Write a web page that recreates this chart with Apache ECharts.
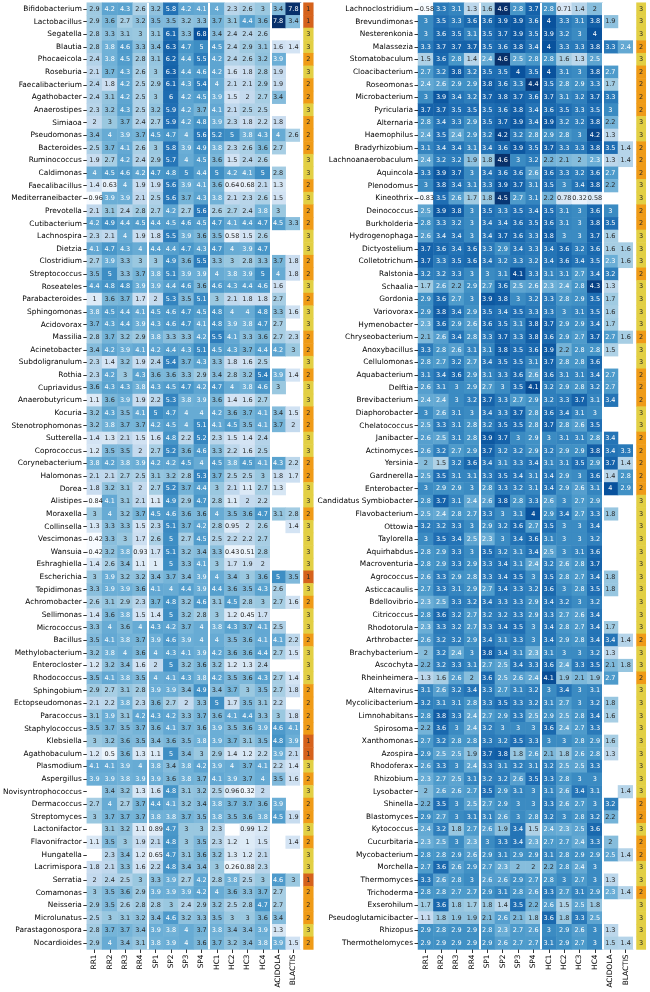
<!DOCTYPE html>
<html><head><meta charset="utf-8">
<script src="https://cdn.jsdelivr.net/npm/echarts@6/dist/echarts.min.js"></script>
<style>html,body{margin:0;padding:0;background:#fff}#c{width:650px;height:992px}</style>
</head><body><div id="c"></div><script>
const _ = null;
const columns = ['RR1','RR2','RR3','RR4','SP1','SP2','SP3','SP4','HC1','HC2','HC3','HC4','ACIDOLA','BLACTIS'];

const leftRows = ['Bifidobacterium','Lactobacillus','Segatella','Blautia','Phocaeicola','Roseburia','Faecalibacterium','Agathobacter','Anaerostipes','Simiaoa','Pseudomonas','Bacteroides','Ruminococcus','Caldimonas','Faecalibacillus','Mediterraneibacter','Prevotella','Cutibacterium','Lachnospira','Dietzia','Clostridium','Streptococcus','Roseateles','Parabacteroides','Sphingomonas','Acidovorax','Massilia','Acinetobacter','Subdoligranulum','Rothia','Cupriavidus','Anaerobutyricum','Kocuria','Stenotrophomonas','Sutterella','Coprococcus','Corynebacterium','Halomonas','Dorea','Alistipes','Moraxella','Collinsella','Vescimonas','Wansuia','Eshraghiella','Escherichia','Tepidimonas','Achromobacter','Sellimonas','Micrococcus','Bacillus','Methylobacterium','Enterocloster','Rhodococcus','Sphingobium','Ectopseudomonas','Paracoccus','Staphylococcus','Klebsiella','Agathobaculum','Plasmodium','Aspergillus','Novisyntrophococcus','Dermacoccus','Streptomyces','Lactonifactor','Flavonifractor','Hungatella','Lacrimispora','Serratia','Comamonas','Neisseria','Microlunatus','Parastagonospora','Nocardioides'];

const leftValues = [
[2.9,4.2,4.3,2.6,3.2,5.8,4.2,4.1,4,2.3,2.6,3,3.4,7.8],
[2.9,3.6,2.7,3.2,3.5,3.5,3.2,3.3,3.7,3.1,4.4,3.6,7.8,3.4],
[2.8,3.3,3.1,3,3.1,6.1,3.3,6.8,3.4,2.4,2.4,2.6,_,_],
[2.8,3.8,4.6,3.3,3.4,6.3,4.7,5,4.5,2.4,2.9,3.1,1.6,1.4],
[2.4,3.8,4.5,2.8,3.1,6.2,4.4,5.5,4.2,2.4,2.6,3.2,3.9,_],
[2.1,3.7,4.3,2.6,3,6.3,4.4,4.6,4.2,1.6,1.8,2.8,1.9,_],
[2.4,1.8,4.2,2.5,2.9,6.1,4.3,5.4,4,2.1,2.1,2.9,1.9,_],
[2.4,3.1,4.2,2.5,3,6,4.2,4.5,3.9,1.5,2,2.7,3.4,_],
[2.3,3.2,4.3,2.5,3.2,5.9,4.2,3.7,4.1,2.1,2.5,2.5,_,_],
[2,3,3.7,2.4,2.7,5.9,4.2,4.8,3.9,2.3,1.8,2.2,1.8,_],
[3.4,4,3.9,3.7,4.5,4.7,4,5.6,5.2,5,3.8,4.3,4,2.6],
[2.5,3.7,4.1,2.6,3,5.8,3.9,4.9,3.8,2.3,2.6,3.6,2.7,_],
[1.9,2.7,4.2,2.4,2.9,5.7,4,4.5,3.6,1.5,2.4,2.6,_,_],
[4,4.5,4.6,4.2,4.7,4.8,5,4.4,5,4.2,4.1,5,2.8,_],
[1.4,0.63,4,1.9,1.9,5.6,3.9,4.1,3.6,0.64,0.68,2.1,1.3,_],
[-0.96,3.9,3.9,2.1,2.5,5.6,3.7,4.3,3.8,2.1,2.3,2.6,1.5,_],
[2.1,3.1,2.4,2.8,2.7,4.2,2.7,5.6,2.6,2.7,2.4,3.8,3,_],
[4.2,4.9,4.4,4.5,4.4,4.5,4.6,4.5,4.7,4.1,4.4,4.7,4.5,3.3],
[2.3,2.1,4,1.9,1.8,5.5,3.9,3.6,3.5,0.58,1.5,2.6,_,_],
[4.1,4.7,4.3,4,4.4,4.4,4.7,4.3,4.7,4,3.9,4.7,_,_],
[2.7,3.9,3.3,3,3,4.9,3.6,5.5,3.3,3,2.8,3.3,3.7,1.8],
[3.5,5,3.3,3.7,3.8,5.1,3.9,3.9,4,3.8,3.9,5,4,1.8],
[4.4,4.8,4.8,3.9,3.9,4.4,4.6,3.6,4.6,4.3,4.4,4.6,1.6,_],
[1,3.6,3.7,1.7,2,5.3,3.5,5.1,3,2.1,1.8,1.8,2.7,_],
[3.8,4.5,4.4,4.1,4.5,4.6,4.7,4.5,4.8,4,4,4.8,3.3,1.6],
[3.7,4.3,4.4,3.9,4.3,4.6,4.7,4.1,4.8,3.9,3.8,4.7,2.7,_],
[2.8,3.7,3.2,2.9,3.8,3.3,3.3,4.2,5.5,4.1,3.3,3.6,2.7,2.3],
[3.4,4.2,3.9,4.1,4.2,4.4,4.3,5.1,4.5,4.3,3.7,4.4,4.2,3],
[2.3,1.4,3.2,1.9,2.4,5.4,3.7,4.3,3.3,1.8,1.6,2.5,_,_],
[2.3,4.2,3,4.3,3.6,3.6,3.3,2.9,3.4,2.8,3.2,5.4,3.9,1.4],
[3.6,4.3,4.3,3.8,4.3,4.5,4.7,4.2,4.7,4,3.8,4.6,3,_],
[1.1,3.6,3.9,1.9,2.2,5.3,3.8,3.9,3.6,1.4,1.6,2.7,_,_],
[3.2,4.3,3.5,4.1,5,4.7,4,4,4.2,3.6,3.7,4.1,3.4,1.5],
[3.2,3.8,3.7,3.7,4.2,4.5,4,5.1,4.1,4.5,3.5,4.1,3.7,2],
[1.4,1.3,2.1,1.5,1.6,4.8,2.2,5.2,2.3,1.5,1.4,2.4,_,_],
[1.2,3.5,3.5,2,2.7,5.2,3.6,4.6,3.3,2.2,1.6,2.5,_,_],
[3.8,4.2,3.8,3.9,4.2,4.2,4.5,4,4.5,3.8,4.5,4.1,4.3,2.2],
[2.1,2.1,2.7,2.5,3.1,3.2,2.8,5.3,3.7,2.5,2.5,3,1.8,1.7],
[1.8,3.2,3.1,2,2.7,5.2,3.7,4.4,3,2.1,1.1,2.7,1.3,_],
[-0.84,4.1,3.1,2.1,1.1,4.9,2.9,4.7,2.8,1.1,2,2.2,_,_],
[3,4,3.2,3.7,4.5,4.6,3.6,3.6,4,3.5,3.6,4.7,3.1,2.8],
[1.3,3.3,3.3,1.5,2.3,5.1,3.7,4.2,2.8,0.95,2,2.6,_,1.4],
[-0.42,3.3,3,1.7,2.6,5,2.7,4.5,2.5,2.2,2.2,2.7,_,_],
[-0.42,3.2,3.8,0.93,1.7,5.1,3.2,3.4,3.3,0.43,0.51,2.8,_,_],
[1.4,2.6,3.4,1.1,1,5,3.3,4.1,3,1.7,1.9,2,_,_],
[3,3.9,3.2,3.2,3.4,3.7,3.4,3.9,4,3.4,3,3.6,5,3.5],
[3.3,3.9,3.9,3.6,4.1,4,4.4,3.9,4.4,3.6,3.5,4.3,2.6,_],
[2.6,3.1,2.9,2.3,3.7,4.8,3.2,4.6,3.1,4.5,2.8,3,2.7,1.6],
[1.4,3.6,3.8,1.5,1.4,5,3.2,2.8,3,1.2,0.45,1.7,_,_],
[3.3,4,3.6,4,4.3,4.2,3.7,4,3.8,4.3,3.7,4.1,2.5,_],
[3.5,4.1,3.8,3.7,3.9,4.6,3.9,4,4,3.5,3.6,4.1,4.1,2.2],
[3.2,3.8,4,3.6,4,4.3,4.1,3.9,4.2,3.6,3.6,4.4,2.7,1.5],
[1.2,3.2,3.4,1.6,2,5,3.2,3.6,3.2,1.2,1.3,2.4,_,_],
[3.5,4.1,3.8,3.5,4,4.1,4.3,3.8,4.2,3.5,3.6,4.3,2.7,1.4],
[2.9,2.7,3.1,2.8,3.9,3.9,3.4,4.9,3.4,3.7,3,3.5,2.7,1.8],
[2.1,2.2,3.8,2.3,3.6,2.7,2,3.3,5,1.7,3.5,3.1,2.2,_],
[3.1,3.9,3.1,4.2,4.3,4.2,3.3,3.7,3.6,4.1,4.4,3.3,3,1.8],
[3.5,3.7,3.5,3.7,3.6,4.1,3.7,3.6,3.9,3.5,3.6,3.9,4.6,4.1],
[3,3.2,3.6,3.5,3.4,3.6,3.5,3.8,3.9,3.7,3.1,3.5,4.8,3.9],
[1.2,0.5,3.6,1.3,1.1,5,3.4,3,2.9,1.4,1.2,2.2,3.9,2.1],
[4.1,4.1,3.9,4,3.8,3.4,3.8,4.2,3.9,4,3.7,4.1,2.2,1.4],
[3.9,3.9,3.8,3.9,3.9,3.6,3.8,3.7,4.1,3.9,3.7,4,3.5,1.6],
[_,3.4,3.2,1.3,1.6,4.8,3.1,3.2,2.5,0.96,0.32,2,_,_],
[2.7,4,2.7,3.7,4.4,4.1,3.2,3.4,3.8,3.7,3.7,3.6,3.9,_],
[3,3.7,3.7,3.7,3.8,3.8,3.7,3.5,3.8,3.5,3.6,3.8,4.5,1.9],
[_,3.1,3.2,1.1,0.89,4.7,3,3,2.3,_,0.99,1.2,_,_],
[1.1,3.5,3,1.9,2.1,4.8,3,3.5,2.3,1.2,1,1.5,_,1.4],
[_,2.3,3.4,1.2,0.65,4.7,3.1,3.6,3.2,1.3,1.2,2.1,_,_],
[1.8,2.1,3.3,1.6,2.2,4.8,3.4,3.4,3,0.26,0.88,2.3,_,_],
[2,2.4,2.5,3,3.3,3.9,2.7,4.2,2.8,3.8,2.5,3,4.6,3],
[3,3.5,3.6,2.9,3.9,3.9,3.9,4.2,4,3.6,3.3,3.7,2.7,_],
[2.9,3.5,2.6,2.8,2.8,3,2.4,2.9,3.2,2.5,2.8,4.7,2.7,_],
[2.5,3,3.1,3.2,3.4,4.6,3.2,3.3,3.5,3,3,3.6,3.4,_],
[2.8,3.7,3.7,3.4,3.9,3.8,4,3.7,3.8,3.4,3.4,3.9,1.3,_],
[2.9,4,3.4,3.1,3.8,3.9,4,3.6,3.7,3.2,3.4,3.8,3.9,1.5]
];
const leftGroups = [1,1,3,3,2,3,2,2,3,2, 2,2,3,3,2,3,2,2,3,3, 2,2,3,2,3,3,2,2,3,2, 3,3,2,2,3,3,2,2,3,3, 2,3,3,3,3,1,3,2,3,3, 2,3,3,3,2,2,2,2,1,1, 3,2,3,2,2,3,2,3,3,1, 2,2,2,3,2];

const rightRows = ['Lachnoclostridium','Brevundimonas','Nesterenkonia','Malassezia','Stomatobaculum','Cloacibacterium','Roseomonas','Microbacterium','Pyricularia','Alternaria','Haemophilus','Bradyrhizobium','Lachnoanaerobaculum','Aquincola','Plenodomus','Kineothrix','Deinococcus','Burkholderia','Hydrogenophaga','Dictyostelium','Colletotrichum','Ralstonia','Schaalia','Gordonia','Variovorax','Hymenobacter','Chryseobacterium','Anoxybacillus','Cellulomonas','Aquabacterium','Delftia','Brevibacterium','Diaphorobacter','Chelatococcus','Janibacter','Actinomyces','Yersinia','Gardnerella','Enterobacter','Candidatus Symbiobacter','Flavobacterium','Ottowia','Taylorella','Aquirhabdus','Macroventuria','Agrococcus','Asticcacaulis','Bdellovibrio','Citricoccus','Rhodotorula','Arthrobacter','Brachybacterium','Ascochyta','Rheinheimera','Alternavirus','Mycolicibacterium','Limnohabitans','Spirosoma','Xanthomonas','Azospira','Rhodoferax','Rhizobium','Lysobacter','Shinella','Blastomyces','Kytococcus','Cucurbitaria','Mycobacterium','Morchella','Thermomyces','Trichoderma','Exserohilum','Pseudoglutamicibacter','Rhizopus','Thermothelomyces'];

const rightValues = [
[-0.58,3.3,3.1,1.3,1.6,4.6,2.8,3.7,2.8,0.71,1.4,2,_,_],
[3,3.5,3.3,3.6,3.6,3.9,3.9,3.6,4,3.3,3.1,3.8,1.9,_],
[3,3.6,3.5,3.1,3.5,3.7,3.9,3.5,3.9,3.2,3,4,_,_],
[3.3,3.7,3.7,3.7,3.5,3.6,3.8,3.4,4,3.3,3.3,3.8,3.3,2.4],
[1.5,3.6,2.8,1.4,2.4,4.6,2.5,2.8,2.8,1.6,1.3,2.5,_,_],
[2.7,3.2,3.8,3.2,3.5,3.5,4,3.5,4,3.1,3,3.8,2.7,_],
[2.4,2.6,2.9,2.9,3.8,3.6,3.3,4.4,3.5,2.8,2.9,3.3,1.7,_],
[3,3.9,3.4,3.2,3.7,3.8,3.7,3.6,3.7,3.1,3.2,3.7,3.3,_],
[3.7,3.7,3.5,3.5,3.5,3.6,3.8,3.4,3.6,3.5,3.3,3.5,3,_],
[2.8,3.4,3.3,2.9,3.5,3.7,3.9,3.4,3.9,3.2,3.2,3.8,2.2,_],
[2.4,3.5,2.4,2.9,3.2,4.2,3.2,2.8,2.9,2.8,3,4.2,1.3,_],
[3.1,3.4,3.4,3.1,3.4,3.6,3.9,3.5,3.7,3.3,3.3,3.8,3.5,1.4],
[2.4,3.2,3.2,1.9,1.8,4.6,3,3.2,2.2,2.1,2,2.3,1.3,1.4],
[3.3,3.9,3.7,3,3.4,3.6,3.6,2.6,3.6,3.3,3.2,3.6,2.7,_],
[3,3.8,3.4,3.1,3.3,3.9,3.7,3.1,3.5,3,3.4,3.8,2.2,_],
[-0.83,3.5,2.6,1.7,1.8,4.5,2.7,3.1,2.2,0.78,0.32,0.58,_,_],
[2.5,3.9,3.8,3,3.5,3.3,3.5,3.4,3.5,3.1,3,3.6,3,_],
[2.8,3.3,3.2,3,3.4,3.4,3.6,3.5,3.6,3.1,3,3.8,3.5,_],
[2.6,3.4,3.4,3,3.4,3.7,3.6,3.3,3.8,3,3,3.7,1.6,_],
[3.7,3.6,3.4,3.6,3.3,2.9,3.4,3.3,3.4,3.6,3.2,3.6,1.6,1.6],
[3.7,3.3,3.5,3.6,3.4,3.2,3.3,3.2,3.4,3.6,3.4,3.5,2.3,1.6],
[3.2,3.2,3.3,3,3,3.1,4.1,3.3,3.1,3.1,2.7,3.4,3.2,_],
[1.7,2.6,2.2,2.9,2.7,3.6,2.5,2.6,2.3,2.4,2.8,4.3,1.3,_],
[2.9,3.6,2.7,3,3.9,3.8,3,3.2,3.3,2.8,2.9,3.5,1.7,_],
[2.9,3.8,3.4,2.9,3.5,3.4,3.5,3.3,3.3,3,3.1,3.5,1.6,_],
[2.3,3.6,2.9,2.6,3.6,3.5,3.1,3.8,3.7,2.9,2.9,3.4,1.7,_],
[2.1,2.6,3.4,2.8,3.3,3.7,3.3,3.8,3.6,2.9,2.7,3.7,2.7,1.6],
[3.3,2.8,2.6,3.1,3.1,3.8,3.5,3.6,3.9,2.2,2.8,2.8,1.5,_],
[2.8,2.7,3.2,2.7,3.4,3.5,3.5,3.1,3.7,2.8,2.8,3.6,_,_],
[3.1,3.4,3.6,2.9,3.1,3.3,3.6,2.6,3.6,3.1,3.1,3.4,2.7,_],
[2.6,3.1,3,2.9,2.7,3,3.5,4.1,3.2,2.9,2.8,3.2,2.7,_],
[2.4,2.4,3,3.2,3.7,3.3,2.7,2.9,3.2,3.3,3.7,3.1,3.4,_],
[3,2.6,3.1,3,3.4,3.3,3.7,2.8,3.6,3.4,3.1,3,_,_],
[2.5,3.3,3.1,2.8,3.2,3.5,3.5,2.8,3.7,2.8,2.6,3.5,_,_],
[2.6,2.5,3.1,2.8,3.9,3.7,3,2.9,3,3.1,3.1,2.8,3.4,_],
[2.6,3.2,2.7,2.9,3.7,3.2,3.2,2.9,3.2,2.9,2.9,3.8,3.4,3.3],
[2,1.5,3.2,3.6,3.4,3.1,3.3,3.4,3.1,3.1,3.5,2.9,3.7,1.4],
[2.5,3.5,3.1,3.1,3.3,3.5,3.4,3.1,3.4,2.9,3,3.6,1.4,2.8],
[3,2.9,2.9,3,2.8,3.3,3.2,3.1,3.4,2.9,2.6,3.1,4,2.9],
[2.8,3.7,3.1,2.4,2.6,3.8,2.8,3.3,2.6,3,2.7,2.9,_,_],
[2.5,2.4,2.8,2.7,3.3,3,3.1,4,2.9,3.4,2.7,3.3,1.8,_],
[3.2,3.2,3.3,3,2.9,3.2,3.6,2.7,3.5,3,3,3.4,_,_],
[3,3.5,3.4,2.5,2.3,3,3.4,3.6,3.1,3,3,3.2,_,_],
[2.8,2.9,3.3,3,3.5,3.2,3.1,3.4,2.5,3,3.1,3.6,_,_],
[2.8,2.9,3.3,2.9,3.3,3.4,3.1,2.4,3.2,2.6,2.8,3.7,_,_],
[2.6,3.3,2.9,2.8,3.3,3.4,3.5,3,3.5,2.8,2.7,3.4,1.8,_],
[2.7,3.3,3.1,2.9,2.7,3.4,3.3,3.2,3.6,3,2.8,3.5,1.8,_],
[2.3,2.5,3.3,3.2,3.4,3.3,3.3,2.9,3.4,3.2,3,3.2,_,_],
[2.8,3.6,3.2,2.7,3.2,3.2,3.3,2.9,3.3,2.7,2.6,3.4,_,_],
[2.3,3.3,3.2,2.7,3.3,3.4,3.5,3,3.4,2.8,2.7,3.4,1.7,_],
[2.6,3.2,3.2,2.9,3.4,3.1,3.3,3,3.4,2.9,2.8,3.4,3.4,1.4],
[2,3.2,2.4,3,3.8,3.4,3.1,2.3,3.1,3,3,3.2,1.3,_],
[2.2,3.2,3.3,3.1,2.7,2.5,3.4,3.3,3.6,2.4,3.3,3.5,2.1,1.8],
[1.3,1.6,2.6,2,3.6,2.5,2.6,2.4,4.1,1.9,2.1,1.9,2.7,_],
[3.1,2.6,3.2,3.4,3.3,2.7,3.1,3.2,3,3.4,3,3.1,_,_],
[3.2,3.1,3.1,2.8,3.3,3.5,3.3,3.2,3.1,2.7,3,3.2,1.8,_],
[2.8,3.8,3.3,2.4,2.7,2.9,3.3,2.5,2.9,2.5,2.8,3.4,1.6,_],
[2.2,3.6,3,2.4,3.2,3,3,3,3.6,2.4,2.7,3.3,_,_],
[2.7,3.2,2.8,2.8,3.3,3.2,3.5,3.3,3,3,2.8,2.9,1.6,_],
[2.9,2.5,2.5,1.9,3.7,3.8,1.8,2.6,2.1,1.8,2.6,2.8,1.3,_],
[2.6,3.3,3,2.4,3.3,3.1,3.2,3.1,3.2,2.5,2.5,3.3,_,_],
[2.3,2.7,2.5,3.1,3.2,3.2,2.6,3.5,3.3,2.8,3,3,_,_],
[2,2.6,2.6,2.7,3.5,2.9,3.1,3,3.1,2.6,3.4,3.1,_,1.4],
[2.2,3.5,3,2.5,2.7,2.9,3,3,3.3,2.6,2.7,3,3.2,_],
[2.9,2.7,3,3.1,3.1,2.6,3,2.8,3.2,3,2.8,3.2,2.2,_],
[2.4,3.2,1.8,2.7,2.6,1.9,3.4,1.5,2.4,2.3,2.5,3.6,_,_],
[2.3,2.5,3,2.3,3,3.3,3.4,2.3,2.7,2.7,2.4,3.3,2,_],
[2.8,2.8,2.9,2.6,2.9,3.1,2.9,2.9,3.1,2.8,2.9,2.9,2.5,1.4],
[2.7,3.6,2.6,2.9,2.7,2.3,2,2,2.2,2.8,2.4,3,_,_],
[3.3,2.6,2.8,3,2.6,2.6,2.9,2.7,2.8,3,2.7,3,1.3,_],
[2.8,2.8,2.7,2.7,2.9,3.1,2.8,2.6,3.3,2.7,3.1,2.9,2.3,1.4],
[1.7,3.6,1.8,1.7,1.8,1.4,3.5,2.2,2.6,1.5,2.5,1.8,_,_],
[1.1,1.8,1.9,1.9,2.1,2.6,2.1,1.8,3.6,1.8,3.3,2.5,_,_],
[2.9,2.8,2.9,2.9,2.8,2.3,2.7,2.6,3,2.9,2.6,3,1.3,_],
[2.9,2.9,2.9,2.9,2.9,2.6,2.7,2.7,3.1,2.9,2.7,3,1.5,1.4]
];
const rightGroups = [3,3,3,2,3,2,2,2,2,3, 3,2,2,2,3,3,2,2,3,3, 3,2,3,3,3,3,2,3,3,2, 2,2,3,3,2,2,2,2,2,3, 3,3,3,3,3,3,3,3,3,3, 2,3,3,2,3,3,3,3,3,3, 3,3,3,2,2,3,2,2,3,3, 2,3,3,3,3];

// ---------- styling helpers ----------
const BLUES = ['#f7fbff','#deebf7','#c6dbef','#9ecae1','#6baed6','#4292c6','#2171b5','#08519c','#08306b'];
const GROUP_COLORS = {1:'#d5621c', 2:'#ef9b17', 3:'#e2cf44'};
const FONT = 'DejaVu Sans';
function hex2rgb(h){return [parseInt(h.substr(1,2),16),parseInt(h.substr(3,2),16),parseInt(h.substr(5,2),16)];}
function bluesAt(t){
  t = Math.max(0, Math.min(1, t));
  const p = t*(BLUES.length-1), i = Math.min(Math.floor(p), BLUES.length-2), f = p-i;
  const a = hex2rgb(BLUES[i]), b = hex2rgb(BLUES[i+1]);
  return a.map((v,k)=>v+(b[k]-v)*f);
}
function relLum(rgb){
  const c = rgb.map(v=>{v/=255; return v<=0.03928? v/12.92 : Math.pow((v+0.055)/1.055,2.4);});
  return 0.2126*c[0]+0.7152*c[1]+0.0722*c[2];
}
function textColor(v, vmin, vmax){ return relLum(bluesAt((v-vmin)/(vmax-vmin))) > 0.408 ? '#262626' : '#ffffff'; }

function buildData(values, vmin, vmax){
  const out = [];
  values.forEach((row, r)=>row.forEach((v, c)=>{
    if (v === null) return;
    out.push({value:[c, r, v], label:{color:textColor(v, vmin, vmax)}});
  }));
  return out;
}
function maxOf(values){ let m=-Infinity; values.forEach(r=>r.forEach(v=>{if(v!==null&&v>m)m=v;})); return m; }
const LEFT_MIN = 0, LEFT_MAX = maxOf(leftValues);
const RIGHT_MIN = 0, RIGHT_MAX = maxOf(rightValues);

const TOP = 2.7, H = 946.8;
function heatX(gi){
  return {type:'category', data:columns, gridIndex:gi, position:'bottom', z:10,
    axisLine:{show:false},
    axisTick:{show:true, alignWithLabel:true, interval:0, length:3.5, lineStyle:{color:'#000', width:0.8}},
    axisLabel:{rotate:90, fontSize:7.4, fontFamily:FONT, color:'#000', margin:5, interval:0},
    splitLine:{show:true, interval:function(i){return i===4||i===8||i===12;}, lineStyle:{color:'#fff', width:2}}};
}
function heatY(gi, rows){
  return {type:'category', data:rows, gridIndex:gi, inverse:true, z:10,
    axisLine:{show:false},
    axisTick:{show:true, alignWithLabel:true, interval:0, length:3.5, lineStyle:{color:'#000', width:0.8}},
    axisLabel:{fontSize:7.4, fontFamily:FONT, color:'#000', margin:5, interval:0},
    splitLine:{show:false}};
}
function groupX(gi){ return {type:'category', data:['group'], gridIndex:gi, show:false}; }
function groupY(gi, rows){ return {type:'category', data:rows, gridIndex:gi, inverse:true, show:false}; }
function groupData(groups){ return groups.map((g,r)=>[0, r, g]); }

const cellLabel = {show:true, fontSize:6.5, fontFamily:FONT, formatter:p=>String(p.value[2])};

const option = {
  animation:false,
  backgroundColor:'#fff',
  grid:[
    {left:86, top:TOP, width:215, height:H},
    {left:418, top:TOP, width:215.4, height:H},
    {left:303.5, top:TOP, width:9.8, height:H},
    {left:636.5, top:TOP, width:9.3, height:H}
  ],
  xAxis:[heatX(0), heatX(1), groupX(2), groupX(3)],
  yAxis:[heatY(0,leftRows), heatY(1,rightRows), groupY(2,leftRows), groupY(3,rightRows)],
  visualMap:[
    {type:'continuous', show:false, seriesIndex:0, dimension:2, min:LEFT_MIN, max:LEFT_MAX, inRange:{color:BLUES}, outOfRange:{color:BLUES[0]}},
    {type:'continuous', show:false, seriesIndex:1, dimension:2, min:RIGHT_MIN, max:RIGHT_MAX, inRange:{color:BLUES}, outOfRange:{color:BLUES[0]}},
    {type:'piecewise', show:false, seriesIndex:[2,3], dimension:2,
      pieces:[{value:1, color:GROUP_COLORS[1]},{value:2, color:GROUP_COLORS[2]},{value:3, color:GROUP_COLORS[3]}]}
  ],
  series:[
    {type:'heatmap', xAxisIndex:0, yAxisIndex:0, data:buildData(leftValues, LEFT_MIN, LEFT_MAX), label:cellLabel, emphasis:{disabled:true}, progressive:0},
    {type:'heatmap', xAxisIndex:1, yAxisIndex:1, data:buildData(rightValues, RIGHT_MIN, RIGHT_MAX), label:cellLabel, emphasis:{disabled:true}, progressive:0},
    {type:'heatmap', xAxisIndex:2, yAxisIndex:2, data:groupData(leftGroups), label:{show:true, fontSize:6.5, fontFamily:FONT, color:'#262626', formatter:p=>String(p.value[2])}, emphasis:{disabled:true}, progressive:0},
    {type:'heatmap', xAxisIndex:3, yAxisIndex:3, data:groupData(rightGroups), label:{show:true, fontSize:6.5, fontFamily:FONT, color:'#262626', formatter:p=>String(p.value[2])}, emphasis:{disabled:true}, progressive:0}
  ]
};
const chart = echarts.init(document.getElementById('c'), null, {renderer:'canvas'});
chart.setOption(option);
</script></body></html>
